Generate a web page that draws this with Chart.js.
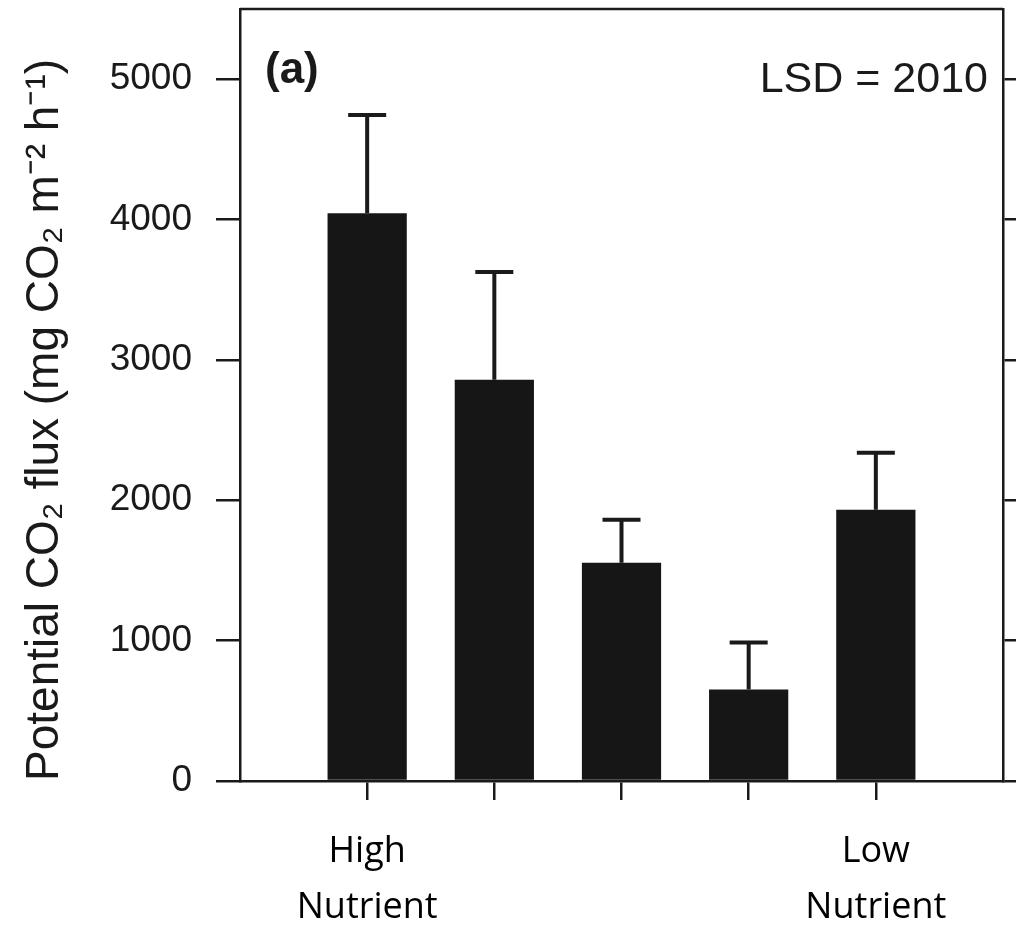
<!DOCTYPE html>
<html lang="en">
<head>
    <meta charset="UTF-8">
    <title>Potential CO2 flux</title>
    <style>
        html, body {
            margin: 0;
            padding: 0;
            background: #ffffff;
        }
        #wrap {
            width: 1016px;
            height: 927px;
        }
    </style>
</head>
<body>
    <div id="wrap"><canvas id="fluxChart" width="1016" height="927"></canvas></div>

    <script src="https://cdn.jsdelivr.net/npm/chart.js"></script>
    <script>
        // values
        const groupLabels = [['High', 'Nutrient'], '', '', '', ['Low', 'Nutrient']];
        const fluxMeans = [4045, 2858, 1555, 651, 1932];
        const fluxErrors = [700, 768, 306, 335, 406];
        const yTicks = [0, 1000, 2000, 3000, 4000, 5000];
        const panelLabel = '(a)';
        const lsdLabel = 'LSD = 2010';

        const ink = '#1a1a1a';
        const sans = "'Liberation Sans', Arial, sans-serif";

        // empty slots at both ends so the bars sit one step in from the frame
        const labels = [''].concat(groupLabels, ['']);
        const means = [null].concat(fluxMeans, [null]);

        const errorBars = {
            id: 'errorBars',
            afterDatasetsDraw(chart) {
                const ctx = chart.ctx;
                const xs = chart.scales.x;
                const ys = chart.scales.y;
                ctx.save();
                ctx.strokeStyle = ink;
                ctx.lineWidth = 4;
                fluxMeans.forEach((m, i) => {
                    const x = xs.getPixelForValue(i + 1);
                    const yb = ys.getPixelForValue(m);
                    const yt = ys.getPixelForValue(m + fluxErrors[i]);
                    ctx.beginPath();
                    ctx.moveTo(x, yb);
                    ctx.lineTo(x, yt);
                    ctx.moveTo(x - 19, yt);
                    ctx.lineTo(x + 19, yt);
                    ctx.stroke();
                });
                ctx.restore();
            }
        };

        const frame = {
            id: 'frame',
            afterDraw(chart) {
                const a = chart.chartArea;
                const ctx = chart.ctx;
                ctx.save();
                ctx.strokeStyle = ink;
                ctx.lineWidth = 2.5;
                ctx.beginPath();
                ctx.moveTo(a.left, a.top);
                ctx.lineTo(a.right, a.top);
                ctx.stroke();

                ctx.fillStyle = ink;
                ctx.textBaseline = 'alphabetic';
                ctx.font = 'bold 44px ' + sans;
                ctx.textAlign = 'left';
                ctx.fillText(panelLabel, a.left + 25, a.top + 74);
                ctx.font = '43px ' + sans;
                ctx.textAlign = 'right';
                ctx.fillText(lsdLabel, a.right - 15, a.top + 83);
                ctx.restore();
            }
        };

        const setTicks = (scale) => {
            scale.ticks = yTicks.map(v => ({ value: v }));
        };
        // keep the chart area where the figure has it
        const noPad = (s) => {
            s.paddingTop = 0;
            s.paddingBottom = 0;
            s.paddingLeft = 0;
            s.paddingRight = 0;
        };

        new Chart(document.getElementById('fluxChart'), {
            type: 'bar',
            data: {
                labels: labels,
                datasets: [{
                    data: means,
                    backgroundColor: '#161616',
                    borderWidth: 0,
                    barPercentage: 0.623,
                    categoryPercentage: 1
                }]
            },
            options: {
                responsive: false,
                animation: false,
                layout: { padding: { top: 9, left: 0, right: 0, bottom: 0 } },
                plugins: {
                    legend: { display: false },
                    tooltip: { enabled: false }
                },
                scales: {
                    x: {
                        offset: false,
                        afterFit: (s) => { s.height = 146; noPad(s); },
                        border: { display: true, color: ink, width: 2.5 },
                        grid: {
                            offset: false,
                            drawOnChartArea: false,
                            drawTicks: true,
                            tickLength: 19,
                            lineWidth: 2.5,
                            tickColor: (c) => (c.index === 0 || c.index === labels.length - 1) ? 'rgba(0,0,0,0)' : ink
                        },
                        ticks: {
                            autoSkip: false,
                            maxRotation: 0,
                            padding: 24,
                            color: '#000',
                            font: { family: "'Open Sans', sans-serif", size: 36, lineHeight: 1.55 }
                        }
                    },
                    y: {
                        min: 0,
                        max: 5500,
                        afterBuildTicks: setTicks,
                        afterFit: (s) => { s.width = 240; noPad(s); },
                        border: { display: true, color: ink, width: 2.5 },
                        grid: {
                            drawOnChartArea: false,
                            drawTicks: true,
                            tickLength: 24,
                            lineWidth: 2.5,
                            tickColor: ink
                        },
                        ticks: {
                            padding: 24,
                            color: ink,
                            font: { family: sans, size: 37 },
                            callback: (v) => String(v)
                        },
                        title: {
                            display: true,
                            align: 'start',
                            text: 'Potential CO\u2082 flux (mg CO\u2082 m\u207B\u00B2 h\u207B\u00B9)',
                            color: ink,
                            font: { family: sans, size: 46 },
                            padding: { top: 18, bottom: 0 }
                        }
                    },
                    y2: {
                        position: 'right',
                        min: 0,
                        max: 5500,
                        afterBuildTicks: setTicks,
                        afterFit: (s) => { s.width = 13; noPad(s); },
                        border: { display: true, color: ink, width: 2.5 },
                        grid: {
                            drawOnChartArea: false,
                            drawTicks: true,
                            tickLength: 13,
                            lineWidth: 2.5,
                            tickColor: ink
                        },
                        ticks: { display: false }
                    }
                }
            },
            plugins: [errorBars, frame]
        });
    </script>
</body>
</html>
